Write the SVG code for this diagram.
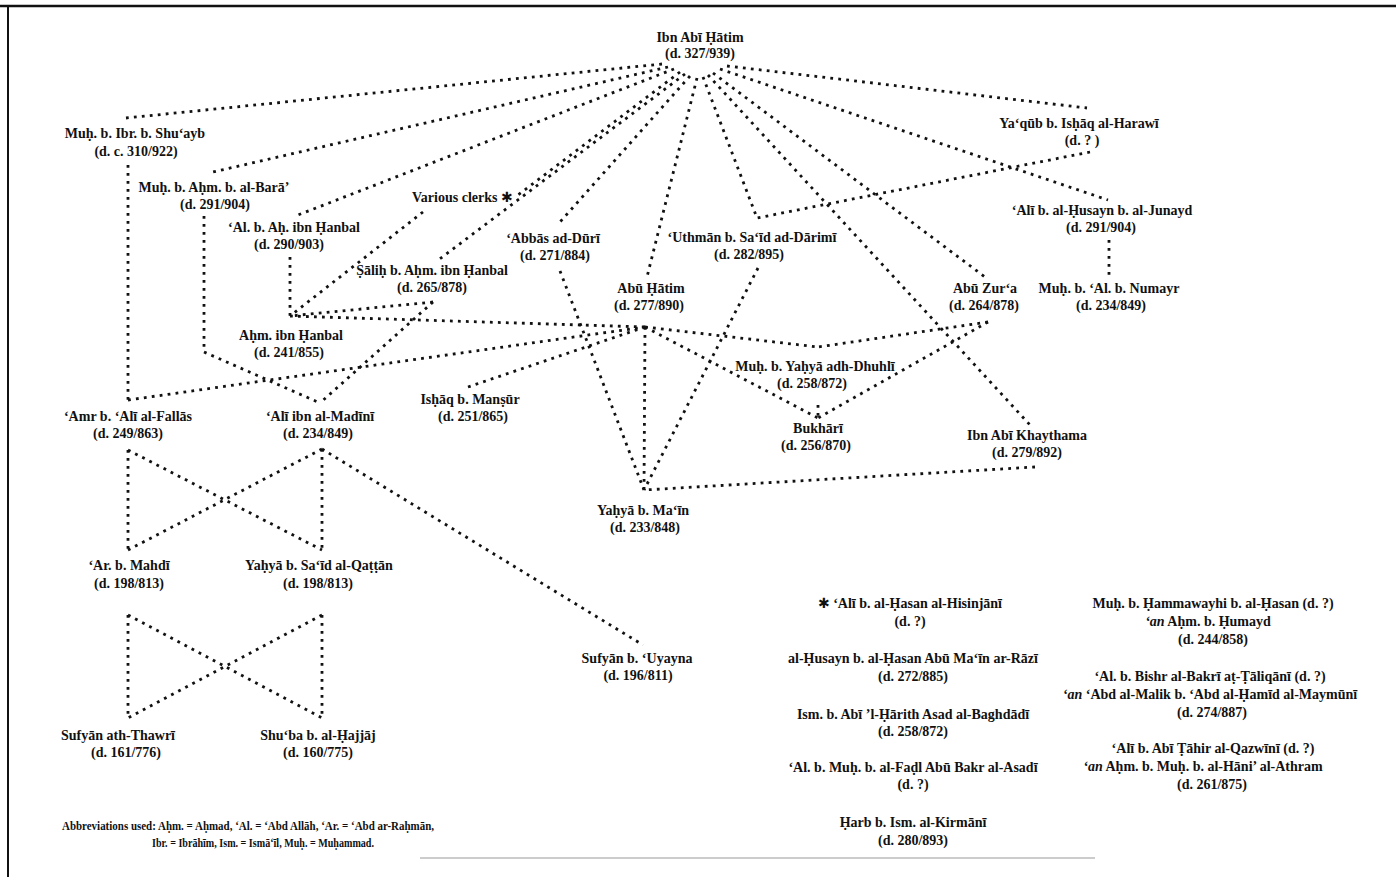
<svg xmlns="http://www.w3.org/2000/svg" width="1396" height="877" viewBox="0 0 1396 877">
<style>
  text { font-family: "Liberation Serif", "DejaVu Serif", serif; font-weight: bold; font-size: 14px; fill: #111; text-anchor: middle; }
  .l { text-anchor: start; }
  .ab { font-size: 12.5px; }
  .star { font-family: "DejaVu Sans", sans-serif; font-weight: normal; }
  .it { font-style: italic; }
  .c { fill: none; stroke: #111; stroke-width: 2.8; stroke-dasharray: 2.8 5.2; }
  .frame { stroke: #111; fill: none; }
</style>
<rect width="1396" height="877" fill="#fff"/>
<g id="frame">
  <line class="frame" x1="0" y1="6" x2="1396" y2="6" stroke-width="2.5"/>
  <line class="frame" x1="8" y1="6" x2="8" y2="877" stroke-width="2"/>
  <line x1="420" y1="858" x2="1095" y2="858" stroke="#999" stroke-width="1"/>
</g>
<g id="connectors">
  <line class="c" x1="662" y1="64" x2="126" y2="118"/>
  <line class="c" x1="668" y1="67" x2="213" y2="172"/>
  <line class="c" x1="674" y1="69" x2="298" y2="215"/>
  <line class="c" x1="680" y1="72" x2="518" y2="195"/>
  <line class="c" x1="685" y1="74" x2="437" y2="261"/>
  <line class="c" x1="690" y1="76" x2="560" y2="222"/>
  <line class="c" x1="697" y1="78" x2="647" y2="277"/>
  <line class="c" x1="703" y1="77" x2="757" y2="218"/>
  <line class="c" x1="708" y1="75" x2="1030" y2="425"/>
  <line class="c" x1="713" y1="73" x2="985" y2="277"/>
  <line class="c" x1="720" y1="69" x2="1108" y2="200"/>
  <line class="c" x1="727" y1="66" x2="1087" y2="108"/>
  <line class="c" x1="1090" y1="152" x2="757" y2="218"/>
  <line class="c" x1="1109" y1="240" x2="1109" y2="276"/>
  <line class="c" x1="128" y1="165" x2="128" y2="400"/>
  <line class="c" x1="128" y1="400" x2="645" y2="327"/>
  <polyline class="c" points="204,216 204,352 320,403"/>
  <line class="c" x1="290" y1="257" x2="290" y2="316"/>
  <line class="c" x1="423" y1="212" x2="290" y2="316"/>
  <line class="c" x1="433" y1="302" x2="290" y2="316"/>
  <line class="c" x1="433" y1="302" x2="320" y2="403"/>
  <line class="c" x1="290" y1="316" x2="645" y2="327"/>
  <line class="c" x1="468" y1="387" x2="645" y2="327"/>
  <line class="c" x1="645" y1="327" x2="644" y2="490"/>
  <line class="c" x1="645" y1="327" x2="818" y2="347"/>
  <line class="c" x1="645" y1="327" x2="818" y2="418"/>
  <line class="c" x1="988" y1="322" x2="818" y2="347"/>
  <line class="c" x1="988" y1="322" x2="818" y2="418"/>
  <line class="c" x1="818" y1="405" x2="818" y2="418"/>
  <line class="c" x1="560" y1="271" x2="644" y2="490"/>
  <line class="c" x1="758" y1="268" x2="644" y2="490"/>
  <line class="c" x1="1035" y1="467" x2="644" y2="490"/>
  <line class="c" x1="128" y1="450" x2="128" y2="550"/>
  <line class="c" x1="128" y1="450" x2="322" y2="550"/>
  <line class="c" x1="322" y1="449" x2="128" y2="550"/>
  <line class="c" x1="322" y1="449" x2="322" y2="550"/>
  <line class="c" x1="322" y1="449" x2="643" y2="645"/>
  <line class="c" x1="128" y1="615" x2="128" y2="718"/>
  <line class="c" x1="128" y1="615" x2="322" y2="718"/>
  <line class="c" x1="322" y1="615" x2="128" y2="718"/>
  <line class="c" x1="322" y1="615" x2="322" y2="718"/>
</g>
<g id="ibn-abi-hatim"><text x="700" y="42">Ibn Abī Ḥātim</text><text x="700" y="58">(d. 327/939)</text></g>
<g id="shuayb"><text x="135" y="138">Muḥ. b. Ibr. b. Shu‘ayb</text><text x="136" y="156">(d. c. 310/922)</text></g>
<g id="bara"><text x="214" y="192">Muḥ. b. Aḥm. b. al-Barā’</text><text x="215" y="209">(d. 291/904)</text></g>
<g id="al-ah-hanbal"><text x="294" y="232">‘Al. b. Aḥ. ibn Ḥanbal</text><text x="289" y="249">(d. 290/903)</text></g>
<g id="clerks"><text class="l" x="412" y="202">Various clerks <tspan class="star">✱</tspan></text></g>
<g id="salih"><text x="432" y="275">Ṣāliḥ b. Aḥm. ibn Ḥanbal</text><text x="432" y="292">(d. 265/878)</text></g>
<g id="abbas"><text x="553" y="243">‘Abbās ad-Dūrī</text><text x="555" y="260">(d. 271/884)</text></g>
<g id="uthman"><text x="752" y="242">‘Uthmān b. Sa‘īd ad-Dārimī</text><text x="749" y="259">(d. 282/895)</text></g>
<g id="abu-hatim"><text x="651" y="293">Abū Ḥātim</text><text x="649" y="310">(d. 277/890)</text></g>
<g id="yaqub"><text x="1079" y="128">Ya‘qūb b. Isḥāq al-Harawī</text><text x="1082" y="145">(d. ? )</text></g>
<g id="ali-husayn"><text x="1102" y="215">‘Alī b. al-Ḥusayn b. al-Junayd</text><text x="1101" y="232">(d. 291/904)</text></g>
<g id="numayr"><text x="1109" y="293">Muḥ. b. ‘Al. b. Numayr</text><text x="1111" y="310">(d. 234/849)</text></g>
<g id="abu-zura"><text x="985" y="293">Abū Zur‘a</text><text x="984" y="310">(d. 264/878)</text></g>
<g id="ahm-hanbal"><text x="291" y="340">Aḥm. ibn Ḥanbal</text><text x="289" y="357">(d. 241/855)</text></g>
<g id="amr"><text x="128" y="421">‘Amr b. ‘Alī al-Fallās</text><text x="128" y="438">(d. 249/863)</text></g>
<g id="madini"><text x="320" y="421">‘Alī ibn al-Madīnī</text><text x="318" y="438">(d. 234/849)</text></g>
<g id="ishaq"><text x="470" y="404">Isḥāq b. Manṣūr</text><text x="473" y="421">(d. 251/865)</text></g>
<g id="dhuhli"><text x="815" y="371">Muḥ. b. Yaḥyā adh-Dhuhlī</text><text x="812" y="388">(d. 258/872)</text></g>
<g id="bukhari"><text x="818" y="433">Bukhārī</text><text x="816" y="450">(d. 256/870)</text></g>
<g id="ibn-abi-khaythama"><text x="1027" y="440">Ibn Abī Khaythama</text><text x="1027" y="457">(d. 279/892)</text></g>
<g id="yahya-main"><text x="643" y="515">Yaḥyā b. Ma‘īn</text><text x="645" y="532">(d. 233/848)</text></g>
<g id="ar-mahdi"><text x="129" y="570">‘Ar. b. Mahdī</text><text x="129" y="588">(d. 198/813)</text></g>
<g id="yahya-qattan"><text x="319" y="570">Yaḥyā b. Sa‘īd al-Qaṭṭān</text><text x="318" y="588">(d. 198/813)</text></g>
<g id="sufyan-uyayna"><text x="637" y="663">Sufyān b. ‘Uyayna</text><text x="638" y="680">(d. 196/811)</text></g>
<g id="sufyan-thawri"><text x="118" y="740">Sufyān ath-Thawrī</text><text x="126" y="757">(d. 161/776)</text></g>
<g id="shuba"><text x="318" y="740">Shu‘ba b. al-Ḥajjāj</text><text x="318" y="757">(d. 160/775)</text></g>
<g id="abbreviations">
  <text class="l ab" x="62" y="830" textLength="372" lengthAdjust="spacingAndGlyphs">Abbreviations used: Aḥm. = Aḥmad, ‘Al. = ‘Abd Allāh, ‘Ar. = ‘Abd ar-Raḥmān,</text>
  <text class="l ab" x="152" y="847" textLength="222" lengthAdjust="spacingAndGlyphs">Ibr. = Ibrāhīm, Ism. = Ismā‘īl, Muḥ. = Muḥammad.</text>
</g>
<g id="hisinjani"><text x="910" y="608"><tspan class="star">✱</tspan> ‘Alī b. al-Ḥasan al-Hisinjānī</text><text x="910" y="626">(d. ?)</text></g>
<g id="razi"><text x="913" y="663">al-Ḥusayn b. al-Ḥasan Abū Ma‘īn ar-Rāzī</text><text x="913" y="681">(d. 272/885)</text></g>
<g id="baghdadi"><text x="913" y="719">Ism. b. Abī ’l-Ḥārith Asad al-Baghdādī</text><text x="913" y="736">(d. 258/872)</text></g>
<g id="asadi"><text x="913" y="772">‘Al. b. Muḥ. b. al-Faḍl Abū Bakr al-Asadī</text><text x="913" y="789">(d. ?)</text></g>
<g id="kirmani"><text x="913" y="827">Ḥarb b. Ism. al-Kirmānī</text><text x="913" y="845">(d. 280/893)</text></g>
<g id="hammawayhi"><text x="1213" y="608">Muḥ. b. Ḥammawayhi b. al-Ḥasan (d. ?)</text><text x="1208" y="626"><tspan class="it">‘an</tspan> Aḥm. b. Ḥumayd</text><text x="1213" y="644">(d. 244/858)</text></g>
<g id="taliqani"><text x="1210" y="681">‘Al. b. Bishr al-Bakrī aṭ-Ṭāliqānī (d. ?)</text><text x="1210" y="699"><tspan class="it">‘an</tspan> ‘Abd al-Malik b. ‘Abd al-Ḥamīd al-Maymūnī</text><text x="1212" y="717">(d. 274/887)</text></g>
<g id="qazwini"><text x="1213" y="753">‘Alī b. Abī Ṭāhir al-Qazwīnī (d. ?)</text><text x="1203" y="771"><tspan class="it">‘an</tspan> Aḥm. b. Muḥ. b. al-Hāni’ al-Athram</text><text x="1212" y="789">(d. 261/875)</text></g>
</svg>
